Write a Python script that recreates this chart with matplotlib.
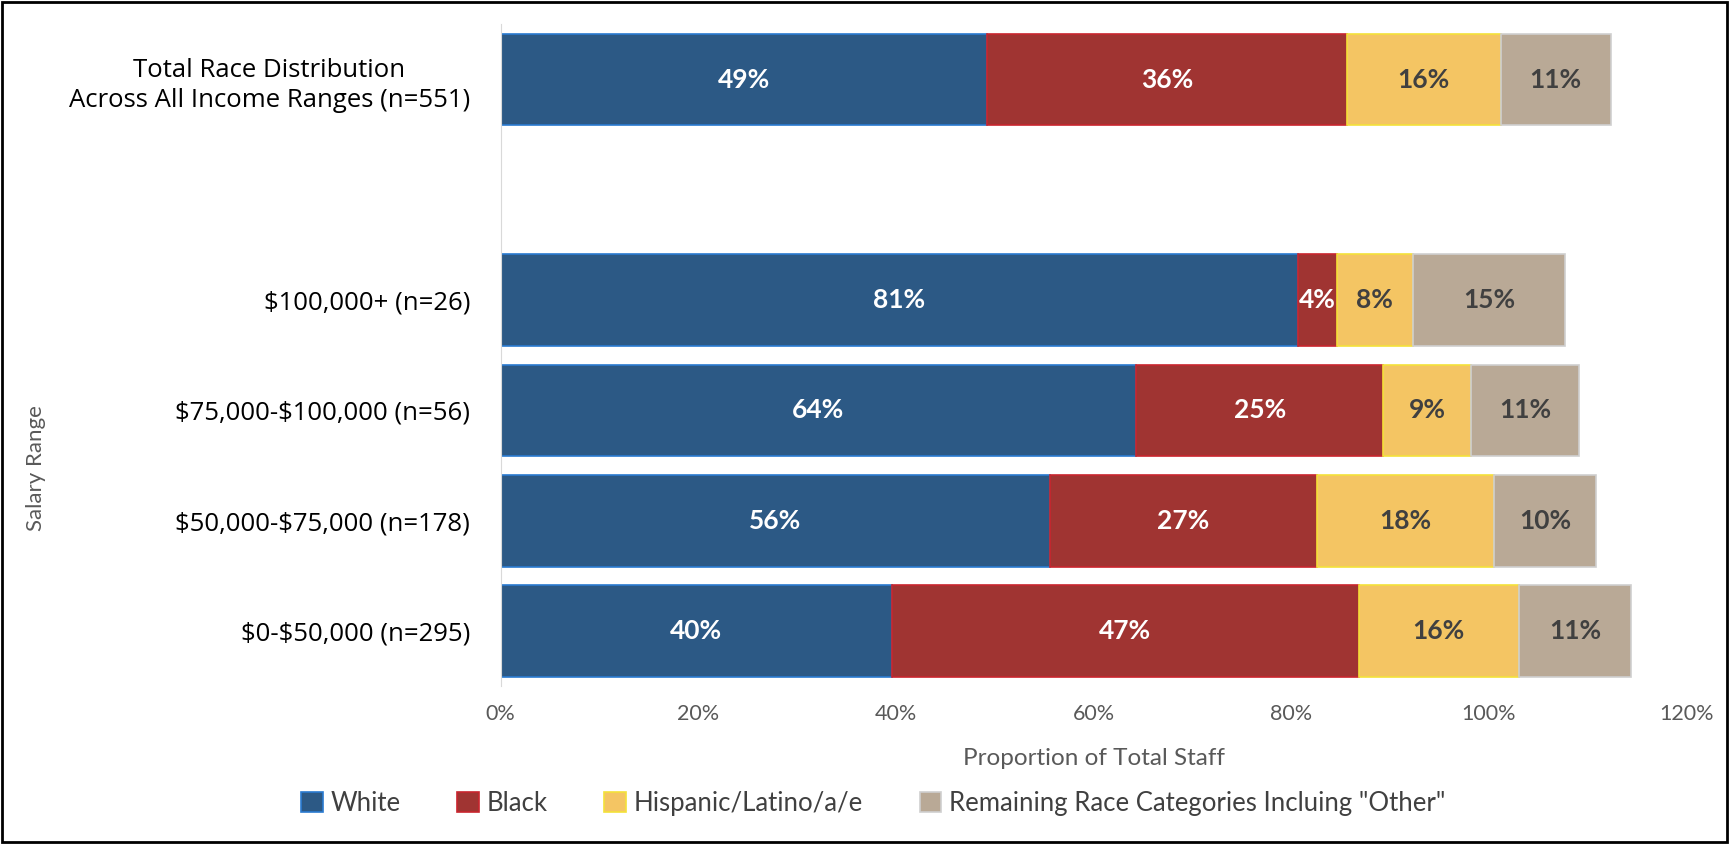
import numpy as np
import matplotlib
matplotlib.use('Agg')
import matplotlib.pyplot as plt
from matplotlib.patches import Rectangle

plt.rcParams['text.parse_math'] = False

# Data (proportion of total staff, %)
categories = ['$0-$50,000 (n=295)', '$50,000-$75,000 (n=178)', '$75,000-$100,000 (n=56)',
              '$100,000+ (n=26)', 'Total Race Distribution\nAcross All Income Ranges (n=551)']
positions = [0, 1, 2, 3, 5]
white = [39.6, 55.6, 64.3, 80.7, 49.2]
black = [47.2, 27.0, 25.0, 3.9, 36.4]
hispanic = [16.2, 17.9, 8.9, 7.7, 15.6]
other = [11.4, 10.3, 10.9, 15.4, 11.1]
labels = [['40%', '47%', '16%', '11%'],
          ['56%', '27%', '18%', '10%'],
          ['64%', '25%', '9%', '11%'],
          ['81%', '4%', '8%', '15%'],
          ['49%', '36%', '16%', '11%']]

series = ['White', 'Black', 'Hispanic/Latino/a/e', 'Remaining Race Categories Incluing "Other"']
colors = ['#2C5985', '#A03432', '#F4C563', '#B9A996']
edges = ['#2A7AD0', '#C8252E', '#F3E13A', '#CFCFCF']
text_colors = ['white', 'white', '#404040', '#404040']

fig = plt.figure(figsize=(17.29, 8.44), dpi=100)
ax = fig.add_axes([0.2896, 0.187, 0.6859, 0.784])

left = np.zeros(len(positions))
for i, vals in enumerate([white, black, hispanic, other]):
    vals = np.array(vals)
    ax.barh(positions, vals, left=left, height=0.83, color=colors[i],
            edgecolor=edges[i], linewidth=1.2, label=series[i])
    for j, p in enumerate(positions):
        ax.text(left[j] + vals[j] / 2, p, labels[j][i], ha='center', va='center',
                color=text_colors[i], fontsize=19, fontweight='bold', family='Lato')
    left += vals

ax.set_xlim(0, 120)
ax.set_ylim(-0.5, 5.5)
ax.set_xticks(np.arange(0, 121, 20))
ax.set_xticklabels([f'{t}%' for t in range(0, 121, 20)], family='Lato', fontsize=15.5, color='#595959')
ax.set_yticks(positions)
ax.set_yticklabels(categories, family='Open Sans', fontsize=18.5, color='black',
                   multialignment='center', linespacing=1.3)
ax.tick_params(axis='both', length=0)
ax.tick_params(axis='x', pad=13)
ax.tick_params(axis='y', pad=22)
for s in ['top', 'right', 'bottom']:
    ax.spines[s].set_visible(False)
ax.spines['left'].set_color('#D9D9D9')

ax.set_xlabel('Proportion of Total Staff', family='Lato', fontsize=17.5, color='#595959', labelpad=17)
fig.text(0.021, 0.445, 'Salary Range', rotation=90, ha='center', va='center',
         family='Lato', fontsize=16, color='#595959')

leg = fig.legend(loc='center', bbox_to_anchor=(0.505, 0.048), ncol=4, frameon=False,
                 handlelength=0.85, handleheight=0.85, handletextpad=0.3, columnspacing=2.2,
                 prop={'family': 'Lato', 'size': 18.5})
for t in leg.get_texts():
    t.set_color('#404040')

fig.patches.append(Rectangle((0.001, 0.002), 0.998, 0.996, transform=fig.transFigure,
                             fill=False, edgecolor='black', linewidth=2))

fig.savefig('out.png', dpi=100)
